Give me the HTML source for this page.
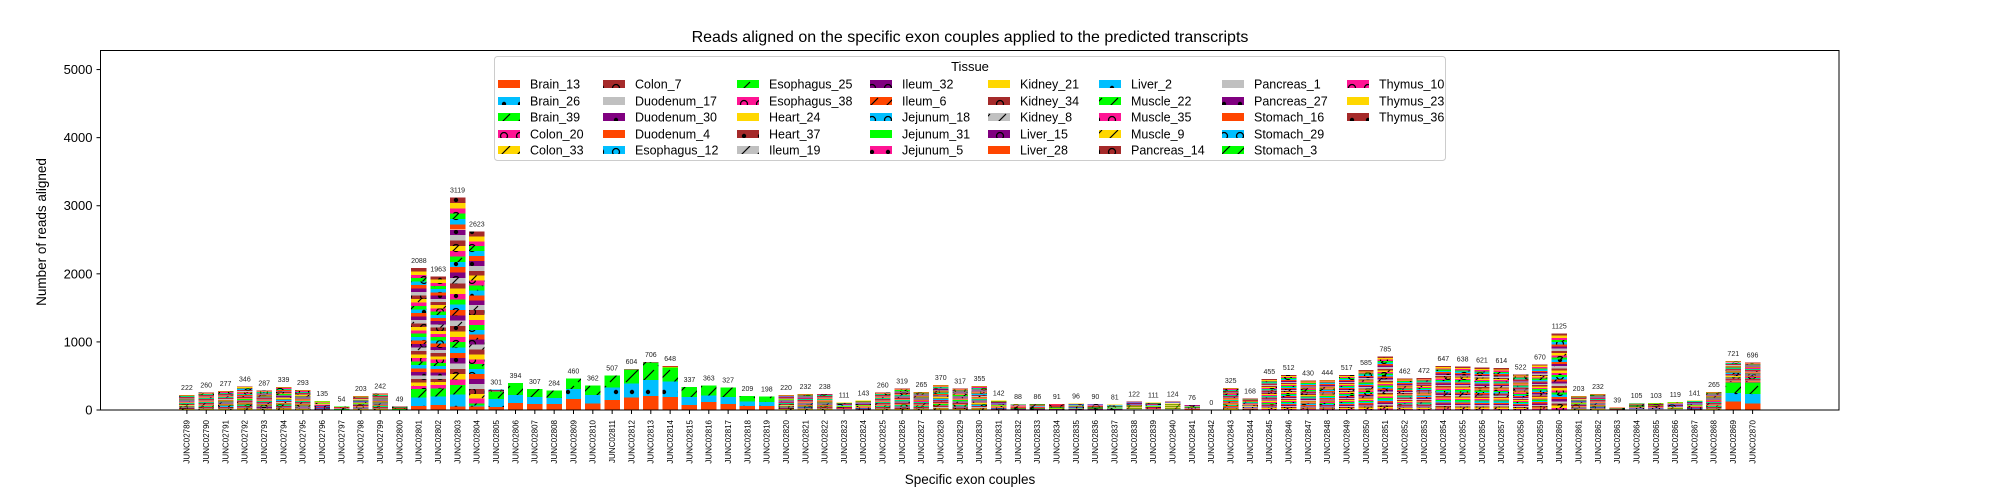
<!DOCTYPE html>
<html><head><meta charset="utf-8"><title>Reads aligned chart</title>
<style>
html,body{margin:0;padding:0;background:#fff;}
svg{display:block;font-family:"Liberation Sans","DejaVu Sans",sans-serif;}
</style></head>
<body>
<svg id="chart" width="2000" height="500" viewBox="0 0 2000 500" xmlns="http://www.w3.org/2000/svg">
<defs id="defs"></defs>
<rect x="0" y="0" width="2000" height="500" fill="#fff"/>
<text x="970" y="42" text-anchor="middle" font-size="16">Reads aligned on the specific exon couples applied to the predicted transcripts</text>
<text x="0" y="0" transform="translate(46,232) rotate(-90)" text-anchor="middle" font-size="13.5">Number of reads aligned</text>
<text x="970" y="484" text-anchor="middle" font-size="13.5">Specific exon couples</text>
<g id="bars" shape-rendering="crispEdges"></g>
<g id="labels"></g>
<g id="axes"></g>
<g id="legend"></g>
</svg>
<script>
const categories = ["JUNC02789","JUNC02790","JUNC02791","JUNC02792","JUNC02793","JUNC02794","JUNC02795","JUNC02796","JUNC02797","JUNC02798","JUNC02799","JUNC02800","JUNC02801","JUNC02802","JUNC02803","JUNC02804","JUNC02805","JUNC02806","JUNC02807","JUNC02808","JUNC02809","JUNC02810","JUNC02811","JUNC02812","JUNC02813","JUNC02814","JUNC02815","JUNC02816","JUNC02817","JUNC02818","JUNC02819","JUNC02820","JUNC02821","JUNC02822","JUNC02823","JUNC02824","JUNC02825","JUNC02826","JUNC02827","JUNC02828","JUNC02829","JUNC02830","JUNC02831","JUNC02832","JUNC02833","JUNC02834","JUNC02835","JUNC02836","JUNC02837","JUNC02838","JUNC02839","JUNC02840","JUNC02841","JUNC02842","JUNC02843","JUNC02844","JUNC02845","JUNC02846","JUNC02847","JUNC02848","JUNC02849","JUNC02850","JUNC02851","JUNC02852","JUNC02853","JUNC02854","JUNC02855","JUNC02856","JUNC02857","JUNC02858","JUNC02859","JUNC02860","JUNC02861","JUNC02862","JUNC02863","JUNC02864","JUNC02865","JUNC02866","JUNC02867","JUNC02868","JUNC02869","JUNC02870"];
const totals = [222,260,277,346,287,339,293,135,54,203,242,49,2088,1963,3119,2623,301,394,307,284,460,362,507,604,706,648,337,363,327,209,198,220,232,238,111,143,260,319,265,370,317,355,142,88,86,91,96,90,81,122,111,124,76,0,325,168,455,512,430,444,517,585,785,462,472,647,638,621,614,522,670,1125,203,232,39,105,103,119,141,265,721,696];
const brain13 = [0,0,0,0,0,0,0,0,0,0,0,0,59,74,50,49,45,100,89,89,165,99,149,183,207,191,74,118,89,60,60,0,0,0,0,0,0,0,0,0,0,0,0,0,0,0,0,0,0,0,0,0,0,0,0,0,0,0,0,0,0,0,0,0,0,0,0,0,0,0,0,0,0,0,0,0,0,0,0,0,124,99];
const brain26 = [0,0,0,0,0,0,0,0,0,0,0,0,123,123,176,20,120,118,99,88,145,119,179,203,237,225,114,98,99,65,60,0,0,0,0,0,0,0,0,0,0,0,0,0,0,0,0,0,0,0,0,0,0,0,0,0,0,0,0,0,0,0,0,0,0,0,0,0,0,0,0,0,0,0,0,0,0,0,0,0,124,139];
const brain39 = [0,0,0,0,0,0,0,0,0,0,0,0,123,120,142,25,110,176,119,107,150,144,179,208,247,211,149,147,139,84,78,0,0,0,0,0,0,0,0,0,0,0,0,0,0,0,0,0,0,0,0,0,0,0,0,0,0,0,0,0,0,0,0,0,0,0,0,0,0,0,0,0,0,0,0,0,0,0,0,0,158,169];
const yTicks = [0,1000,2000,3000,4000,5000];
const tissues = ["Brain_13","Brain_26","Brain_39","Colon_20","Colon_33","Colon_7","Duodenum_17","Duodenum_30","Duodenum_4","Esophagus_12","Esophagus_25","Esophagus_38","Heart_24","Heart_37","Ileum_19","Ileum_32","Ileum_6","Jejunum_18","Jejunum_31","Jejunum_5","Kidney_21","Kidney_34","Kidney_8","Liver_15","Liver_28","Liver_2","Muscle_22","Muscle_35","Muscle_9","Pancreas_14","Pancreas_1","Pancreas_27","Stomach_16","Stomach_29","Stomach_3","Thymus_10","Thymus_23","Thymus_36"];
const hatches = ["none","dot","slash","ring","slash","ring","none","dot","none","ring","slash","ring","none","dot","slash","ring","slash","ring","none","dot","none","ring","slash","ring","none","dot","slash","ring","slash","ring","none","dot","none","ring","slash","ring","none","dot"];
const palette = ["#FF4500","#00BFFF","#00FF00","#FF1493","#FFD700","#A52A2A","#C0C0C0","#800080"];

const NS = "http://www.w3.org/2000/svg";
const plotL = 100.5, plotR = 1839, plotT = 50.5, base = 410;
const yMax = 5280;
const nCat = categories.length;
const margin = 4.47;
const step = (plotR - plotL) / (nCat - 1 + 2 * margin);
function xScale(i){ return plotL + (i + margin) * step; }
function yScale(v){ return base - v * (base - plotT) / yMax; }
function mk(tag, attrs, parent){ const e = document.createElementNS(NS, tag); for (const k in attrs) e.setAttribute(k, attrs[k]); if (parent) parent.appendChild(e); return e; }

const defs = document.getElementById('defs');
tissues.forEach((t, k) => {
  const col = palette[k % 8];
  const p = mk('pattern', {id: 'pat' + k, patternUnits: 'userSpaceOnUse', width: 16, height: 16}, defs);
  mk('rect', {x: 0, y: 0, width: 16, height: 16, fill: col}, p);
  const h = hatches[k];
  if (h === 'dot') mk('circle', {cx: 8, cy: 8, r: 2.2, fill: '#000'}, p);
  else if (h === 'slash') mk('line', {x1: 2, y1: 14, x2: 14, y2: 2, stroke: '#000', 'stroke-width': 1.2}, p);
  else if (h === 'ring') mk('circle', {cx: 8, cy: 8, r: 3.5, fill: 'none', stroke: '#000', 'stroke-width': 1.3}, p);
});

const barsG = document.getElementById('bars');
const labelsG = document.getElementById('labels');
const bw = step * 0.8;
categories.forEach((c, i) => {
  const g = mk('g', {}, barsG);
  
  
  const segs = new Array(tissues.length).fill(0);
  segs[0] = brain13[i]; segs[1] = brain26[i]; segs[2] = brain39[i];
  const rest = Math.max(0, totals[i] - brain13[i] - brain26[i] - brain39[i]);
  for (let k = 3; k < tissues.length; k++) segs[k] = rest / (tissues.length - 3);
  let cum = 0;
  const x = xScale(i) - bw / 2;
  segs.forEach((v, k) => {
    if (v <= 0) return;
    const y0 = yScale(cum), y1 = yScale(cum + v);
    const r = mk('rect', {x: x.toFixed(2), y: y1.toFixed(2), width: bw.toFixed(2), height: (y0 - y1).toFixed(2), fill: 'url(#pat' + k + ')'}, g);
    
    
    cum += v;
  });
  const t = mk('text', {x: xScale(i).toFixed(2), y: (yScale(totals[i]) - 5).toFixed(2), 'text-anchor': 'middle', 'font-size': 7, fill: '#222'}, labelsG);
  
  
  t.textContent = totals[i];
});

const ax = document.getElementById('axes');
const frame = mk('rect', {x: plotL, y: plotT, width: plotR - plotL, height: base - plotT, fill: 'none', stroke: '#000', 'stroke-width': 1}, ax);


yTicks.forEach(v => {
  const y = yScale(v);
  mk('line', {x1: plotL - 4, y1: y, x2: plotL, y2: y, stroke: '#000', 'stroke-width': 1}, ax);
  const t = mk('text', {x: plotL - 8, y: y + 4.5, 'text-anchor': 'end', 'font-size': 13}, ax);
  
  
  t.textContent = v;
});
categories.forEach((c, i) => {
  const x = xScale(i);
  mk('line', {x1: x, y1: base, x2: x, y2: base + 4, stroke: '#000', 'stroke-width': 1}, ax);
  const t = mk('text', {x: 0, y: 0, transform: 'translate(' + (x + 2.8).toFixed(2) + ',420) rotate(-90)', 'text-anchor': 'end', 'font-size': 8}, ax);
  
  
  t.textContent = c;
});

const lg = document.getElementById('legend');
const box = mk('rect', {x: 494.5, y: 56.5, width: 951, height: 104, rx: 3, fill: '#fff', 'fill-opacity': 0.85, stroke: '#ccc', 'stroke-width': 1}, lg);


const lt = mk('text', {x: 970, y: 71, 'text-anchor': 'middle', 'font-size': 13}, lg);


lt.textContent = 'Tissue';
const colSw = [498, 603, 737, 870, 988, 1099, 1222, 1347];
const rowY = [84, 101, 117, 134, 150];
tissues.forEach((t, k) => {
  const c = Math.floor(k / 5), r = k % 5;
  const e = mk('g', {}, lg);
  
  
  mk('rect', {x: colSw[c], y: rowY[r] - 4, width: 22, height: 8, fill: 'url(#pat' + k + ')'}, e);
  const tx = mk('text', {x: colSw[c] + 32, y: rowY[r] + 4.5, 'font-size': 12.5}, e);
  tx.textContent = t;
});
</script>
</body></html>
